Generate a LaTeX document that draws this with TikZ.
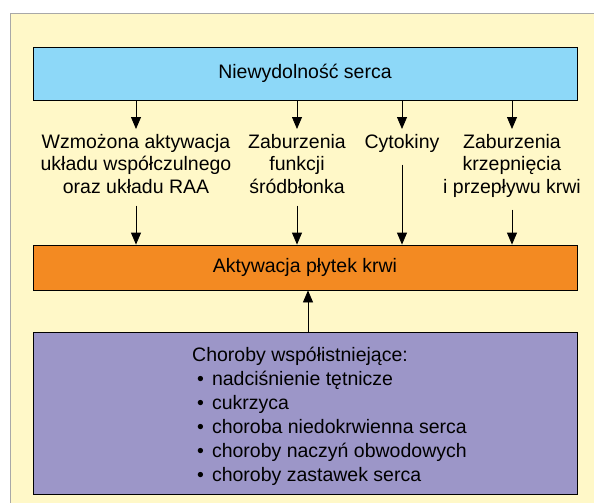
\documentclass[tikz,border=0pt]{standalone}
\usepackage{fontspec}
\setmainfont{Liberation Sans}
\usepackage{tikz}
\usetikzlibrary{positioning,arrows.meta}
\definecolor{panelbg}{HTML}{FFF8C8}
\definecolor{panelline}{HTML}{A8A8A8}
\definecolor{heartblue}{HTML}{8DD8F8}
\definecolor{plateorange}{HTML}{F38A22}
\definecolor{comorbid}{HTML}{9C96C8}
\newcommand{\itm}{\hspace{5pt}•\hspace{8pt}}

\begin{document}
\begin{tikzpicture}[x=1pt,y=-1pt,font=\fontsize{19.5}{22.5}\selectfont]
\tikzstyle{bar}=[rectangle, draw=black, thick, minimum width=544pt, inner sep=0pt]
\tikzstyle{cause}=[align=center, anchor=north, inner sep=0pt]
\tikzstyle{connect}=[-{Triangle[width=10pt,length=12pt]}, thick]
\useasboundingbox (0,0) rectangle (594,503);
\path[fill=panelbg] (10,13) rectangle (594,503);
\draw[panelline, thick] (10,503) -- (10,13) -- (594,13);

\node[bar, fill=heartblue, minimum height=53pt] (hf) at (305,73.5) {Niewydolność serca};
\node[bar, fill=plateorange, minimum height=45pt] (plt) at (305,267.5) {Aktywacja płytek krwi};
\node[bar, fill=comorbid, minimum height=162pt] (com) at (305,413) {};
\node[align=left, anchor=west, inner sep=0pt, font=\fontsize{19.5}{24}\selectfont] (list) at (192,416)
	{Choroby współistniejące:\\
	\itm nadciśnienie tętnicze\\
	\itm cukrzyca\\
	\itm choroba niedokrwienna serca\\
	\itm choroby naczyń obwodowych\\
	\itm choroby zastawek serca};

\node[cause] (c1) at (136,134) {Wzmożona aktywacja\\układu współczulnego\\oraz układu RAA};
\node[cause] (c2) at (297,134) {Zaburzenia\\funkcji\\śródbłonka};
\node[cause] (c3) at (402,134) {Cytokiny};
\node[cause] (c4) at (512,134) {Zaburzenia\\krzepnięcia\\i przepływu krwi};

\draw[connect] (hf.south -| c1.north) -- ([yshift=5pt]c1.north);
\draw[connect] (hf.south -| c2.north) -- ([yshift=5pt]c2.north);
\draw[connect] (hf.south -| c3.north) -- ([yshift=5pt]c3.north);
\draw[connect] (hf.south -| c4.north) -- ([yshift=5pt]c4.north);

\draw[connect] ([yshift=-12pt]c1.south) -- (c1.south |- plt.north);
\draw[connect] ([yshift=-12pt]c2.south) -- (c2.south |- plt.north);
\draw[connect] ([yshift=-12pt]c3.south) -- (c3.south |- plt.north);
\draw[connect] ([yshift=-12pt]c4.south) -- (c4.south |- plt.north);

\draw[connect] (com.north -| 308,0) -- (plt.south -| 308,0);
\end{tikzpicture}
\end{document}
